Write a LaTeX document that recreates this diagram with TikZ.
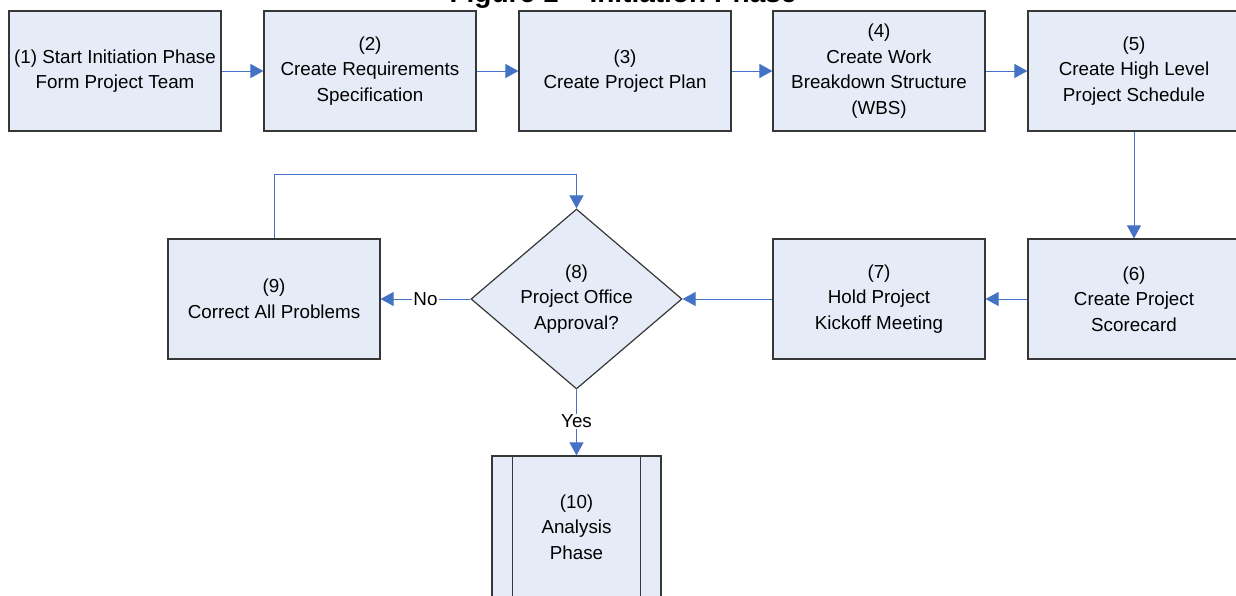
\documentclass[tikz,border=0pt]{standalone}
\usepackage{fontspec}
\setmainfont{Liberation Sans}
\usetikzlibrary{shapes.geometric,arrows.meta}
\definecolor{boxfill}{RGB}{230,236,247}
\definecolor{boxline}{RGB}{55,55,55}
\definecolor{arrowblue}{RGB}{68,114,196}
\tikzset{
  stepbox/.style={rectangle, draw=boxline, fill=boxfill, line width=1.2pt,
    minimum width=212pt, minimum height=120pt, inner sep=0pt, align=center,
    font=\fontsize{18.8}{25.5}\selectfont},
  decbox/.style={diamond, draw=boxline, fill=boxfill, line width=1.2pt,
    minimum width=211pt, minimum height=180pt, inner sep=0pt},
  lbl/.style={align=center, font=\fontsize{18.8}{25.5}\selectfont, inner sep=1pt},
  conn/.style={draw=arrowblue, line width=0.8pt,
    -{Triangle[length=13pt,width=14pt]}},
}
\begin{document}
\begin{tikzpicture}[x=1pt,y=-1pt]
\clip (0,0) rectangle (1236,596);
\fill[white] (0,0) rectangle (1236,596);
\node[anchor=base, font=\bfseries\fontsize{28}{30}\selectfont, inner sep=0pt] (title) at (623,3) {Figure 1 – Initiation Phase};

\node[stepbox] (s1) at (115,71) {(1) Start Initiation Phase\\Form Project Team};
\node[stepbox] (s2) at (370,71) {(2)\\Create Requirements\\Specification};
\node[stepbox] (s3) at (625,71) {(3)\\Create Project Plan};
\node[stepbox] (s4) at (879,71) {(4)\\Create Work\\Breakdown Structure\\(WBS)};
\node[stepbox] (s5) at (1134,71) {(5)\\Create High Level\\Project Schedule};
\node[stepbox] (s6) at (1134,299) {(6)\\Create Project\\Scorecard};
\node[stepbox] (s7) at (879,299) {(7)\\Hold Project\\Kickoff Meeting};
\node[decbox] (s8) at (576.5,299) {};
\node[lbl] (t8) at (s8.center) {(8)\\Project Office\\Approval?};
\node[stepbox] (s9) at (274,299) {(9)\\Correct All Problems};
\node[stepbox, minimum width=169pt, minimum height=142pt] (s10) at (576.5,527) {(10)\\Analysis\\Phase};
\draw[boxline, line width=1.2pt] ([xshift=21pt]s10.north west) -- ([xshift=21pt]s10.south west);
\draw[boxline, line width=1.2pt] ([xshift=-21pt]s10.north east) -- ([xshift=-21pt]s10.south east);

\draw[conn] (s1) -- (s2);
\draw[conn] (s2) -- (s3);
\draw[conn] (s3) -- (s4);
\draw[conn] (s4) -- (s5);
\draw[conn] (s5) -- (s6);
\draw[conn] (s6) -- (s7);
\draw[conn] (s7) -- (s8.east);
\draw[conn] (s8.west) -- node[lbl, fill=white] {No} (s9);
\draw[conn] (s9.north) |- (576.5,174) -- (s8.north);
\draw[conn] (s8.south) -- node[lbl, fill=white, pos=0.48] {Yes} (s10.north);
\end{tikzpicture}
\end{document}
